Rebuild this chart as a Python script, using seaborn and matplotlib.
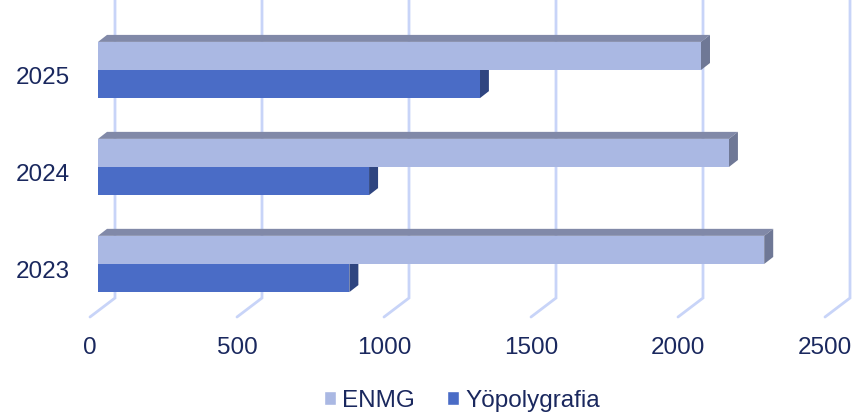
import numpy as np
import pandas as pd
import matplotlib
matplotlib.use("Agg")
import matplotlib.pyplot as plt
from matplotlib.patches import Polygon
import seaborn as sns

# --- data -------------------------------------------------------------
years = ["2023", "2024", "2025"]
series = ["ENMG", "Yöpolygrafia"]
enmg = [2266, 2146, 2051]
yopolygrafia = [855, 922, 1299]
x_ticks = [0, 500, 1000, 1500, 2000, 2500]

# --- style ------------------------------------------------------------
sns.set_style("white")
plt.rcParams["font.family"] = ["Liberation Sans", "DejaVu Sans"]

front_colors = {"ENMG": "#aab8e3", "Yöpolygrafia": "#4a6cc6"}
top_colors = {"ENMG": "#8189a8", "Yöpolygrafia": "#34498a"}
side_colors = {"ENMG": "#6f7896", "Yöpolygrafia": "#2f4580"}
grid_color = "#c8d4f8"
text_color = "#1a285e"
font_size = 17.5

W, H = 856, 416
fig = plt.figure(figsize=(W / 100, H / 100), dpi=100)
fig.patch.set_facecolor("white")
ax = fig.add_axes([98 / W, (H - 311) / H, 735 / W, 298 / H])

df = pd.DataFrame({
    "Vuosi": years * 2,
    "Sarja": [series[0]] * len(years) + [series[1]] * len(years),
    "Määrä": enmg + yopolygrafia,
})

year_order = years[::-1]
sns.barplot(data=df, x="Määrä", y="Vuosi", hue="Sarja", order=year_order,
            hue_order=series, palette=front_colors, orient="h", width=0.58,
            saturation=1, errorbar=None, ax=ax, legend=True)

handles, labels = ax.get_legend_handles_labels()
ax.get_legend().remove()

y_top, y_bot = -0.588, 2.485
ax.set_xlim(0, 2500)
ax.set_ylim(y_bot, y_top)
ax.axis("off")

to_data = ax.transData.inverted()

# 3D look: offsets in pixels (display coords, y up)
wall = np.array([17.0, 13.0])     # back wall relative to bar front plane
floor = np.array([-8.0, -6.0])    # front edge of the floor
depth = np.array([9.0, 7.0])      # bar depth

# back-wall gridlines with floor diagonals
for v in x_ticks:
    p_top = ax.transData.transform((v, y_top)) + wall
    p_bot = ax.transData.transform((v, y_bot)) + wall
    p_front = ax.transData.transform((v, y_bot)) + floor
    pts = to_data.transform(np.array([p_top, p_bot, p_front]))
    ax.plot(pts[:, 0], pts[:, 1], color=grid_color, lw=2.0,
            solid_joinstyle="miter", clip_on=False, zorder=0.5)

# depth faces derived from each bar
bars = [p for p in ax.patches if p.get_width() > 0]
n_years = len(year_order)
for i, bar in enumerate(bars):
    name = series[i // n_years]
    bar.set_zorder(3)
    bar.set_edgecolor("none")
    x0, y0 = bar.get_x(), bar.get_y()
    w, h = bar.get_width(), bar.get_height()
    c = ax.transData.transform(np.array([[x0, y0], [x0 + w, y0 + h]]))
    xl, xr = c[:, 0].min(), c[:, 0].max()
    yb, yt = c[:, 1].min(), c[:, 1].max()
    top = np.array([[xl, yt], [xr, yt], [xr + depth[0], yt + depth[1]],
                    [xl + depth[0], yt + depth[1]]])
    side = np.array([[xr, yb], [xr, yt], [xr + depth[0], yt + depth[1]],
                     [xr + depth[0], yb + depth[1]]])
    ax.add_patch(Polygon(to_data.transform(top), closed=True,
                         facecolor=top_colors[name], edgecolor="none",
                         zorder=2, clip_on=False))
    ax.add_patch(Polygon(to_data.transform(side), closed=True,
                         facecolor=side_colors[name], edgecolor="none",
                         zorder=2, clip_on=False))

# category labels on the front plane
for k, yr in enumerate(year_order):
    p = ax.transData.transform((0, k)) + np.array([-28.0, -8.0])
    q = to_data.transform(p)
    ax.text(q[0], q[1], yr, ha="right", va="center", fontsize=font_size,
            color=text_color, clip_on=False)

# value labels along the front edge of the floor
for v in x_ticks:
    p = ax.transData.transform((v, y_bot)) + floor + np.array([0.0, -31.5])
    q = to_data.transform(p)
    ax.text(q[0], q[1], f"{v}", ha="center", va="center", fontsize=font_size,
            color=text_color, clip_on=False)

fig.legend(handles, labels, loc="center", bbox_to_anchor=(462 / W, 1 - 401 / H),
           ncol=2, frameon=False, fontsize=font_size, labelcolor=text_color,
           handlelength=0.5, handleheight=0.5, handletextpad=0.25,
           columnspacing=1.3, borderpad=0)

fig.savefig("out.png", dpi=100, facecolor="white")
